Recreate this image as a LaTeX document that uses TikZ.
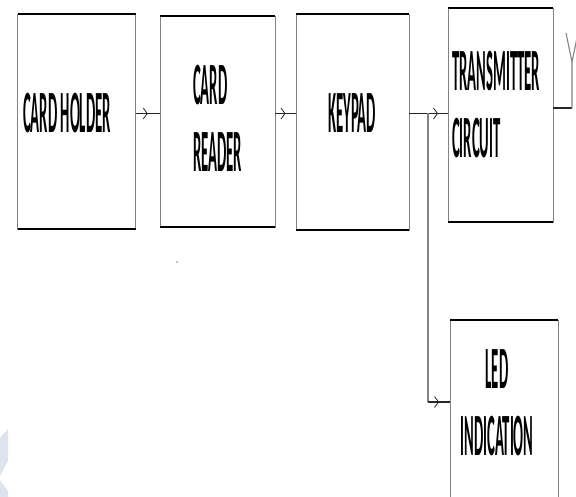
\documentclass[tikz,border=0pt]{standalone}
\usepackage{fontspec}
\newfontfamily\blockfont[FakeStretch=0.245]{Carlito}
\usetikzlibrary{arrows.meta,decorations.markings}
\definecolor{wmark}{RGB}{222,227,236}
\definecolor{sidegray}{RGB}{130,130,130}

\begin{document}
\begin{tikzpicture}[x=1pt,y=-1pt,
  block/.style={draw=sidegray,line width=0.9pt,inner sep=0pt,outer sep=0pt},
  blocktext/.style={font=\blockfont\bfseries\fontsize{60}{67}\selectfont,inner sep=0pt,align=left,anchor=base west},
  wire/.style={line width=1.1pt,draw=black!85},
  midarrow/.style={wire,postaction={decorate},decoration={markings,mark=at position 0.5 with {\arrow{Straight Barb[length=4pt,width=11pt,line width=0.8pt]}}}}]
  \useasboundingbox (0,0) rectangle (576,497);
  \clip (0,0) rectangle (576,497);

  \fill[wmark] (0,438) -- (8,429) -- (8,461) -- (0,476) -- cycle;
  \fill[wmark] (0,480) -- (8,491) -- (8,497) -- (0,497) -- cycle;
  \fill[gray] (177,262) circle (0.8);

  \node[block,minimum width=118,minimum height=215] (holder) at (76.5,121.5) {};
  \node[block,minimum width=115,minimum height=211] (reader) at (217.5,121.5) {};
  \node[block,minimum width=113,minimum height=216] (keypad) at (352.5,122) {};
  \node[block,minimum width=105,minimum height=214] (tx) at (500.5,115) {};
  \node[block,minimum width=108,minimum height=200] (led) at (504,420) {};
  \foreach \b in {holder,reader,keypad,tx,led}
    \draw[line width=1.6pt] (\b.north west) -- (\b.north east) (\b.south west) -- (\b.south east);

  \node[blocktext] (holdertxt) at (23,133) {CARD HOLDER};
  \node[blocktext] (readertxt) at (193,172) {CARD\\READER};
  \node[blocktext] (keypadtxt) at (328,133) {KEYPAD};
  \node[blocktext] (txtxt) at (452,158) {TRANSMITTER\\CIRCUIT};
  \node[blocktext,align=center,anchor=base] (ledtxt) at (497,455) {LED\\INDICATION};

  \coordinate (bus) at (0,113.5);
  \coordinate (split) at (428,113.5);
  \coordinate (ledjoin) at (428,402);
  \draw[midarrow] (holder.east |- bus) -- (reader.west |- bus);
  \draw[midarrow] (reader.east |- bus) -- (keypad.west |- bus);
  \draw[wire] (keypad.east |- bus) -- (split);
  \draw[midarrow] (split) -- (tx.west |- bus);
  \draw[wire,draw=sidegray] (split) -- (ledjoin);
  \draw[midarrow] (ledjoin) -- (led.west |- ledjoin);

  \coordinate (antfoot) at (572,108);
  \coordinate (ant) at (572,62);
  \draw[wire] (tx.east |- antfoot) -- (antfoot);
  \draw[wire,draw=sidegray] (antfoot) -- (ant) -- ++(-6,-29) (ant) -- ++(6,-29);
\end{tikzpicture}
\end{document}
